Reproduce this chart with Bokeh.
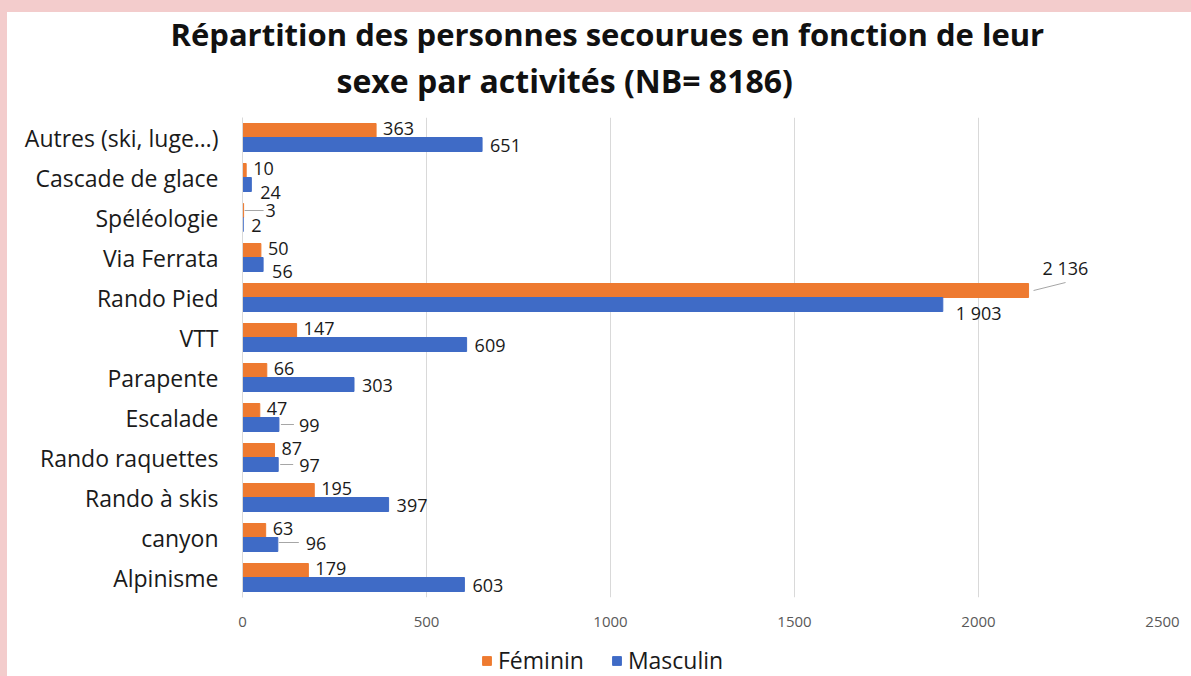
from bokeh.plotting import figure
from bokeh.layouts import column
from bokeh.models import (FactorRange, Legend, LegendItem, ColumnDataSource,
                          Title, FixedTicker)
from bokeh.transform import dodge
from bokeh.core.properties import value
from bokeh.embed import file_html
from bokeh.resources import INLINE

# ---------------- data ----------------
categories = ["Alpinisme", "canyon", "Rando à skis", "Rando raquettes", "Escalade",
              "Parapente", "VTT", "Rando Pied", "Via Ferrata", "Spéléologie",
              "Cascade de glace", "Autres (ski, luge…)"]
feminin = [179, 63, 195, 87, 47, 66, 147, 2136, 50, 3, 10, 363]
masculin = [603, 96, 397, 97, 99, 303, 609, 1903, 56, 2, 24, 651]
series_names = ["Féminin", "Masculin"]
x_ticks = [0, 500, 1000, 1500, 2000, 2500]
title_lines = ["Répartition des personnes secourues en fonction de leur",
               "sexe par activités (NB= 8186)"]

# ---------------- style ----------------
ORANGE = "#EE7A30"
BLUE = "#3F6BC6"
FONT = "Open Sans"
PINK = "#f3cccc"
X_MAX = 2500
FRAME_W = 920          # px width of the plot frame
BAND_PX = 40           # px height of one category band
UPP = X_MAX / FRAME_W  # data units per pixel
DODGE = 0.175

# label placement (pixels): default offsets and a few nudged labels
DEF_OFF = {"fem": (7, -2), "mas": (8, 1)}
NUDGE = {("Rando Pied", "fem"): (14, -23), ("Rando Pied", "mas"): (13, 8),
         ("Spéléologie", "fem"): (22, 0), ("Escalade", "mas"): (20, 1),
         ("Rando raquettes", "mas"): (21, 1), ("canyon", "mas"): (28, -1),
         ("Cascade de glace", "mas"): (9, 8), ("Via Ferrata", "mas"): (9, 7)}
# leader lines: (category, series, start px (dx, dy), end px (dx, dy))
LEADERS = [("Rando Pied", "fem", (5, 0), (37, -8)),
           ("Spéléologie", "fem", (1, 0), (20, 0)),
           ("Escalade", "mas", (2, 0), (15, 0)),
           ("Rando raquettes", "mas", (2, 0), (15, 0)),
           ("canyon", "mas", (1, -2), (21, -2))]


def fmt(v):
    return f"{v:,}".replace(",", " ")


def offsets(series):
    dx, dy = [], []
    for c in categories:
        ox, oy = NUDGE.get((c, series), DEF_OFF[series])
        dx.append(ox)
        dy.append(oy)
    return dx, dy


fdx, fdy = offsets("fem")
mdx, mdy = offsets("mas")
src = ColumnDataSource(dict(
    cat=categories,
    fem=feminin,
    mas=masculin,
    fem_lbl=[fmt(v) for v in feminin],
    mas_lbl=[fmt(v) for v in masculin],
    fdx=fdx, fdy=fdy, mdx=mdx, mdy=mdy,
))

p = figure(width=1191, height=636,
           y_range=FactorRange(*categories), x_range=(0, X_MAX),
           output_backend="svg", toolbar_location=None,
           min_border_left=242, min_border_right=29,
           min_border_top=117, min_border_bottom=39,
           background_fill_color="white", border_fill_alpha=0)
p.styles = {"background-color": "white",
            "box-shadow": f"inset 7px 12px 0 0 {PINK}"}

r_f = p.hbar(y=dodge("cat", DODGE, range=p.y_range), left=0, right="fem",
             height=0.35, color=ORANGE, source=src)
r_m = p.hbar(y=dodge("cat", -DODGE, range=p.y_range), left=0, right="mas",
             height=0.35, color=BLUE, source=src)

p.text(x="fem", y=dodge("cat", DODGE, range=p.y_range), text="fem_lbl",
       x_offset="fdx", y_offset="fdy", text_font=value(FONT), text_font_size="18px",
       text_baseline="middle", text_align="left", text_color="#1a1a1a", source=src)
p.text(x="mas", y=dodge("cat", -DODGE, range=p.y_range), text="mas_lbl",
       x_offset="mdx", y_offset="mdy", text_font=value(FONT), text_font_size="18px",
       text_baseline="middle", text_align="left", text_color="#1a1a1a", source=src)

# leader lines from bar ends to moved labels
vals = {"fem": feminin, "mas": masculin}
for cat, ser, (sx, sy), (ex, ey) in LEADERS:
    v = vals[ser][categories.index(cat)]
    base = DODGE if ser == "fem" else -DODGE
    lsrc = ColumnDataSource(dict(cat=[cat], x0=[v + sx * UPP], x1=[v + ex * UPP]))
    p.segment(x0="x0", x1="x1",
              y0=dodge("cat", base - sy / BAND_PX, range=p.y_range),
              y1=dodge("cat", base - ey / BAND_PX, range=p.y_range),
              line_color="#a6a6a6", line_width=1, source=lsrc)

# titles (later-added sits closer to the frame)
p.title.text = title_lines[0]
p.title.align = "left"
p.title.text_font = FONT
p.title.text_font_size = "31px"
p.title.text_font_style = "bold"
p.title.text_color = "#111111"
p.title.offset = -72
p.title.standoff = -27
t2 = Title(text=title_lines[1], align="left", text_font=FONT,
           text_font_size="32px", text_font_style="bold", text_color="#111111",
           offset=94, standoff=31)
p.add_layout(t2, "above")

# axes
p.xaxis.ticker = FixedTicker(ticks=x_ticks)
p.xaxis.axis_line_color = None
p.xaxis.major_tick_line_color = None
p.xaxis.minor_tick_line_color = None
p.xaxis.major_label_text_font = FONT
p.xaxis.major_label_text_font_size = "15px"
p.xaxis.major_label_text_color = "#595959"
p.xaxis.major_label_standoff = 13

p.yaxis.axis_line_color = "#d9d9d9"
p.yaxis.major_tick_line_color = None
p.yaxis.minor_tick_line_color = None
p.yaxis.major_label_text_font = FONT
p.yaxis.major_label_text_font_size = "23px"
p.yaxis.major_label_text_color = "#1a1a1a"
p.yaxis.major_label_standoff = 18

p.xgrid.ticker = FixedTicker(ticks=x_ticks)
p.xgrid.grid_line_color = "#d9d9d9"
p.ygrid.grid_line_color = None
p.outline_line_color = None

# ---------------- legend strip (frame aligned with the chart's frame) ----------------
leg = figure(width=1191, height=40, x_range=(0, 1), y_range=(0, 1),
             output_backend="svg", toolbar_location=None,
             min_border_left=0, min_border_right=0,
             min_border_top=0, min_border_bottom=0,
             background_fill_alpha=0, border_fill_alpha=0)
leg.styles = {"background-color": "white",
              "box-shadow": f"inset 7px 0 0 0 {PINK}"}
leg.axis.visible = False
leg.grid.visible = False
leg.outline_line_color = None
proxy = ColumnDataSource(dict(y=[0.5], l=[0], r=[0]))
l_f = leg.hbar(y="y", left="l", right="r", height=0, color=ORANGE, source=proxy)
l_m = leg.hbar(y="y", left="l", right="r", height=0, color=BLUE, source=proxy)
legend = Legend(items=[LegendItem(label=series_names[0], renderers=[l_f]),
                       LegendItem(label=series_names[1], renderers=[l_m])],
                orientation="horizontal", location=(239, 0),
                label_text_font=FONT, label_text_font_size="23px",
                label_text_color="#1a1a1a",
                glyph_width=11, glyph_height=11, spacing=27,
                label_standoff=6,
                border_line_color=None, background_fill_alpha=0,
                padding=0, margin=0)
leg.add_layout(legend, "center")

layout = column(p, leg, spacing=0)
open("out.html", "w").write(file_html(layout, INLINE))
